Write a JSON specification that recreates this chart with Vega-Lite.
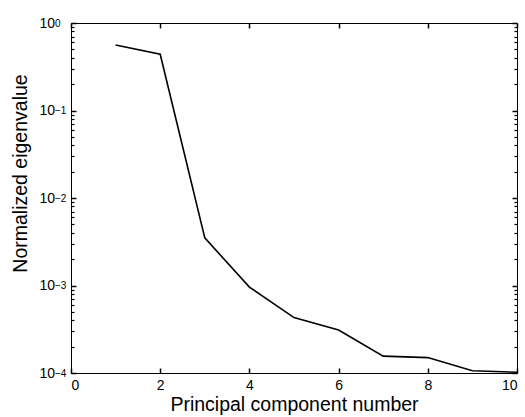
{
  "$schema": "https://vega.github.io/schema/vega-lite/v6.json",
  "width": 446,
  "height": 350,
  "autosize": {"type": "none"},
  "padding": {"left": 71, "top": 23, "right": 8, "bottom": 44},
  "background": "white",
  "config": {
    "view": {"stroke": "black", "strokeWidth": 1},
    "axis": {
      "labelFont": "Liberation Sans",
      "titleFont": "Liberation Sans",
      "labelColor": "black",
      "titleColor": "black",
      "grid": false,
      "domain": false,
      "labelFontSize": 14,
      "titleFontWeight": "normal"
    }
  },
  "data": {
    "values": [
      {"pc": 1, "ev": 0.56},
      {"pc": 2, "ev": 0.44},
      {"pc": 3, "ev": 0.0035},
      {"pc": 4, "ev": 0.00096},
      {"pc": 5, "ev": 0.00043},
      {"pc": 6, "ev": 0.00031},
      {"pc": 7, "ev": 0.000156},
      {"pc": 8, "ev": 0.00015},
      {"pc": 9, "ev": 0.000106},
      {"pc": 10, "ev": 0.000102}
    ]
  },
  "layer": [
    {
      "mark": {"type": "line", "color": "black", "strokeWidth": 1.6},
      "encoding": {
        "x": {
          "field": "pc", "type": "quantitative",
          "scale": {"domain": [0, 10], "nice": false},
          "axis": {
            "orient": "bottom", "values": [0, 2, 4, 6, 8, 10],
            "ticks": true, "tickColor": "#000", "tickWidth": 1.5, "tickSize": -5, "labelPadding": 10,
            "title": "Principal component number", "titleFontSize": 19.5,
            "titleX": 223, "titleY": 37, "titleBaseline": "alphabetic"
          }
        },
        "y": {
          "field": "ev", "type": "quantitative",
          "scale": {"type": "log", "domain": [0.0001, 1], "nice": false},
          "axis": {
            "orient": "left", "values": [0.0001, 0.001, 0.01, 0.1, 1],
            "ticks": true, "tickColor": "#000", "tickWidth": 1.5, "tickSize": -5, "labelPadding": 37, "labelAlign": "left",
            "labelExpr": "'10'",
            "title": "Normalized eigenvalue", "titleFontSize": 19.5,
            "titleX": -41, "titleY": 150, "titleBaseline": "bottom"
          }
        }
      }
    },
    {
      "mark": {"type": "line", "opacity": 0},
      "encoding": {
        "x": {
          "field": "pc", "type": "quantitative",
          "axis": {"orient": "top", "values": [0, 2, 4, 6, 8, 10], "tickColor": "#000", "tickWidth": 1.5, "tickSize": -5, "labels": false, "title": null}
        },
        "y": {
          "field": "ev", "type": "quantitative",
          "axis": {"orient": "right", "values": [0.0001, 0.001, 0.01, 0.1, 1], "tickColor": "#000", "tickWidth": 1.5, "tickSize": -5, "labels": false, "title": null}
        }
      }
    },
    {
      "mark": {"type": "line", "opacity": 0},
      "encoding": {
        "x": {"field": "pc", "type": "quantitative", "axis": null},
        "y": {
          "field": "ev", "type": "quantitative",
          "axis": {"orient": "left", "values": [0.0002,0.0003,0.0004,0.0005,0.0006,0.0007,0.0008,0.0009,0.002,0.003,0.004,0.005,0.006,0.007,0.008,0.009,0.02,0.03,0.04,0.05,0.06,0.07,0.08,0.09,0.2,0.3,0.4,0.5,0.6,0.7,0.8,0.9], "tickColor": "#000", "tickWidth": 1.2, "tickSize": -3, "labels": false, "title": null}
        }
      }
    },
    {
      "mark": {"type": "line", "opacity": 0},
      "encoding": {
        "x": {"field": "pc", "type": "quantitative", "axis": null},
        "y": {
          "field": "ev", "type": "quantitative",
          "axis": {"orient": "right", "values": [0.0002,0.0003,0.0004,0.0005,0.0006,0.0007,0.0008,0.0009,0.002,0.003,0.004,0.005,0.006,0.007,0.008,0.009,0.02,0.03,0.04,0.05,0.06,0.07,0.08,0.09,0.2,0.3,0.4,0.5,0.6,0.7,0.8,0.9], "tickColor": "#000", "tickWidth": 1.2, "tickSize": -3, "labels": false, "title": null}
        }
      }
    },
    {
      "mark": {"type": "line", "opacity": 0},
      "encoding": {
        "x": {"field": "pc", "type": "quantitative", "axis": null},
        "y": {
          "field": "ev", "type": "quantitative",
          "axis": {
            "orient": "left", "values": [0.0001, 0.001, 0.01, 0.1, 1],
            "ticks": false, "labelPadding": 16.5, "labelAlign": "left",
            "labelFontSize": 10, "labelDy": -7,
            "labelExpr": "['−4','−3','−2','−1','0'][round(log(datum.value)/log(10))+4]",
            "title": null
          }
        }
      }
    }
  ],
  "resolve": {"axis": {"x": "independent", "y": "independent"}}
}
